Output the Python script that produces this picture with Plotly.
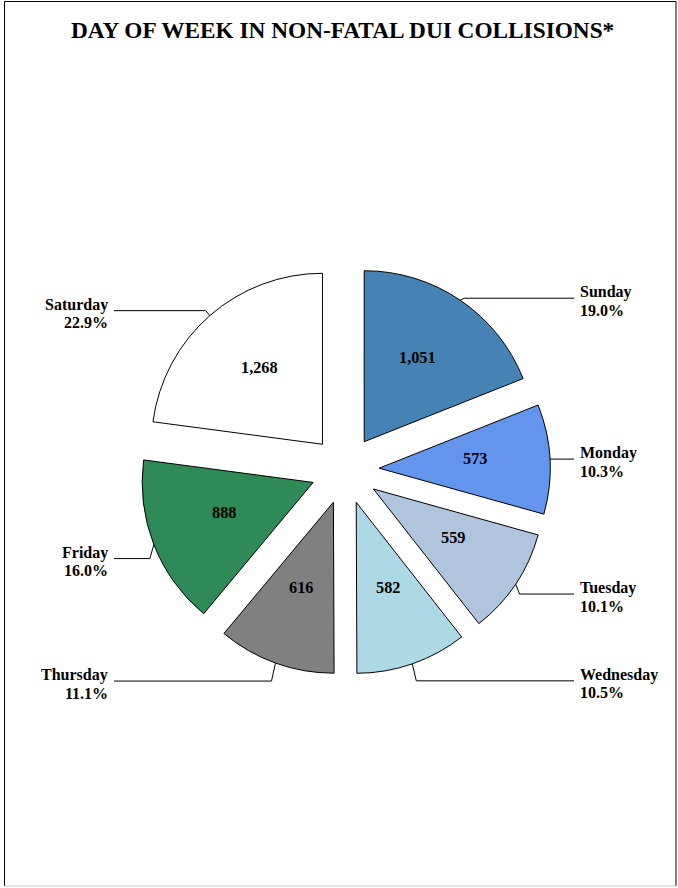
import math
import plotly.graph_objects as go

# ---------------- data ----------------
days = ["Sunday", "Monday", "Tuesday", "Wednesday", "Thursday", "Friday", "Saturday"]
counts = [1051, 573, 559, 582, 616, 888, 1268]
slice_colors = ["#4682B4", "#6495ED", "#B0C4DE", "#ADD8E6", "#808080", "#2E8B57", "#FFFFFF"]
title_text = "DAY OF WEEK IN NON-FATAL DUI COLLISIONS*"

# ---------------- layout constants (pixels) ----------------
W, H = 678, 888
CX, CY = 345, 470          # pie centre
R = 171                    # pie radius
PULL = 0.2                 # explode fraction
FONT = "Liberation Serif, Times New Roman, serif"
LEFT_COL_X = 109           # right edge of left-hand labels
RIGHT_COL_X = 579          # left edge of right-hand labels
LINE_GAP = 5               # gap between leader end and label text
LABEL_DY = [-2, 0, 10, 17, 18, 14, -5]   # vertical shift of leader elbow from arc point
VALUE_R = 0.76             # radial position of value labels (fraction of R, from centre)
VALUE_DY = -5

total = sum(counts)


def px(x):
    return x / W


def py(y):
    return 1 - y / H


fig = go.Figure()
fig.add_trace(go.Pie(
    labels=days,
    values=counts,
    sort=False,
    direction="clockwise",
    rotation=0,
    pull=[PULL] * len(counts),
    marker=dict(colors=slice_colors, line=dict(color="black", width=1)),
    textinfo="none",
    hoverinfo="label+value+percent",
    showlegend=False,
    domain=dict(
        x=[px(CX - R * (1 + PULL)), px(CX + R * (1 + PULL))],
        y=[py(CY + R * (1 + PULL)), py(CY - R * (1 + PULL))],
    ),
))

annotations = []
shapes = []

cum = 0
for i, (d, v) in enumerate(zip(days, counts)):
    a0 = cum / total * 2 * math.pi
    cum += v
    a1 = cum / total * 2 * math.pi
    mid = (a0 + a1) / 2
    ux, uy = math.sin(mid), -math.cos(mid)

    # value inside slice
    vx = CX + VALUE_R * R * ux
    vy = CY + VALUE_R * R * uy + VALUE_DY
    annotations.append(dict(
        x=px(vx), y=py(vy), xref="paper", yref="paper",
        text=f"<b>{v:,}</b>", showarrow=False,
        font=dict(family=FONT, size=16.3, color="black"),
        xanchor="center", yanchor="middle",
    ))

    # leader line
    sx = CX + R * (1 + PULL) * ux
    sy = CY + R * (1 + PULL) * uy
    ly = sy + LABEL_DY[i]
    right = ux >= 0
    ex = sx + (4 if right else -4)
    end_x = RIGHT_COL_X - LINE_GAP if right else LEFT_COL_X + LINE_GAP
    path = f"M {px(sx)},{py(sy)} L {px(ex)},{py(ly)} L {px(end_x)},{py(ly)}"
    shapes.append(dict(type="path", path=path, xref="paper", yref="paper",
                       line=dict(color="black", width=1)))

    pct = f"{v / total * 100:.1f}%"
    xa = "left" if right else "right"
    tx = RIGHT_COL_X if right else LEFT_COL_X
    annotations.append(dict(
        x=px(tx), y=py(ly - 6), xref="paper", yref="paper",
        text=f"<b>{d}</b>", showarrow=False, xanchor=xa, yanchor="middle",
        font=dict(family=FONT, size=16, color="black"), borderpad=0,
    ))
    annotations.append(dict(
        x=px(tx), y=py(ly + 12), xref="paper", yref="paper",
        text=f"<b>{pct}</b>", showarrow=False, xanchor=xa, yanchor="middle",
        font=dict(family=FONT, size=16, color="black"), borderpad=0,
    ))

# title
annotations.append(dict(
    x=px(342), y=py(30), xref="paper", yref="paper",
    text=f"<b>{title_text}</b>", showarrow=False,
    xanchor="center", yanchor="middle",
    font=dict(family=FONT, size=23.3, color="black"),
))

# frame
shapes.append(dict(type="line", xref="paper", yref="paper",
                   x0=px(4.5), x1=px(4.5), y0=py(1.5), y1=py(886), line=dict(color="black", width=1)))
shapes.append(dict(type="line", xref="paper", yref="paper",
                   x0=px(4.5), x1=px(676), y0=py(1.5), y1=py(1.5), line=dict(color="black", width=1)))
shapes.append(dict(type="line", xref="paper", yref="paper",
                   x0=px(676), x1=px(676), y0=py(1.5), y1=py(886), line=dict(color="black", width=1)))
shapes.append(dict(type="line", xref="paper", yref="paper",
                   x0=px(4.5), x1=px(676), y0=py(886), y1=py(886), line=dict(color="#C8C8C8", width=1)))

fig.update_layout(
    width=W, height=H,
    margin=dict(l=0, r=0, t=0, b=0),
    paper_bgcolor="white", plot_bgcolor="white",
    annotations=annotations, shapes=shapes,
    showlegend=False,
)

fig.write_html(
    "out.html",
    config={"displayModeBar": False},
    post_script="document.body.style.margin='0';document.body.style.overflow='hidden';",
)
